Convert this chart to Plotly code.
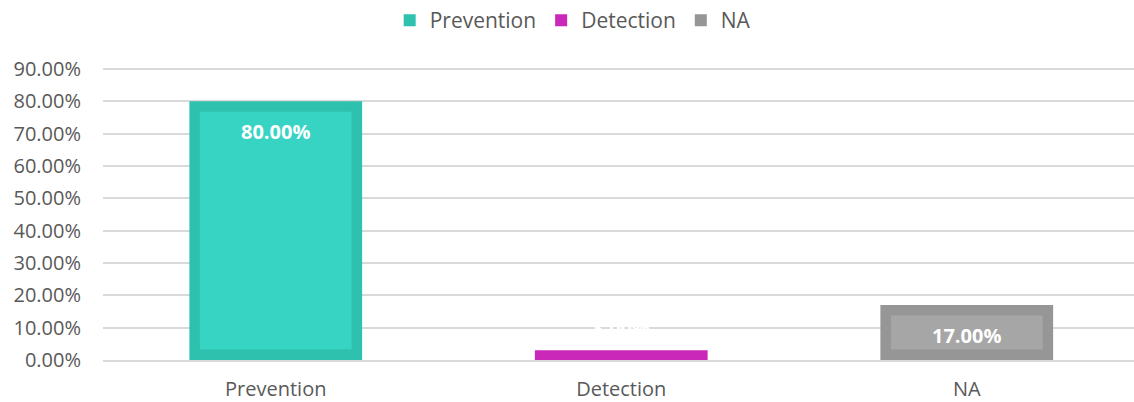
import plotly.graph_objects as go

categories = ["Prevention", "Detection", "NA"]
values = [80.0, 3.0, 17.0]
y_ticks = [0, 10, 20, 30, 40, 50, 60, 70, 80, 90]
y_tick_labels = ["%.2f%%" % t for t in y_ticks]

outer_colors = ["#2EC2AE", "#C928B9", "#969696"]
inner_colors = ["#37D4C3", "#C928B9", "#A6A6A6"]

W, H = 1134, 402
M_L, M_R, M_B = 103, 0, 42
top_px = 69                      # pixel row of the 90% gridline
y_top_val = 90
y_pad = 0.6                      # small headroom so the 90% gridline is drawn
units_per_px = y_top_val / (H - M_B - top_px)
M_T = top_px - y_pad / units_per_px
border_px = 10.5
inset = border_px * units_per_px

cat_px = 345.5
x_range = [-0.5, -0.5 + (W - M_L - M_R) / cat_px]
outer_w = 0.5
inner_w = outer_w - 2 * border_px / cat_px

fig = go.Figure()
for i, (c, v) in enumerate(zip(categories, values)):
    fig.add_trace(go.Bar(
        x=[i], y=[v], name=c, width=outer_w,
        marker=dict(color=outer_colors[i], line=dict(width=0)),
        showlegend=True, hoverinfo="skip"))
    if v > 2 * inset:
        fig.add_trace(go.Bar(
            x=[i], y=[v - 2 * inset], base=[inset], width=inner_w,
            marker=dict(color=inner_colors[i], line=dict(width=0)),
            showlegend=False, hoverinfo="skip"))

for i, v in enumerate(values):
    shift = -30 if v > 10 else 23
    fig.add_annotation(x=i, y=v, yshift=shift, text="<b>%.2f%%</b>" % v,
                       showarrow=False, xref="x", yref="y",
                       font=dict(family="Open Sans", size=20, color="white"))

fig.update_layout(
    width=W, height=H,
    margin=dict(l=M_L, r=M_R, t=M_T, b=M_B, autoexpand=False),
    barmode="overlay",
    plot_bgcolor="white", paper_bgcolor="white",
    font=dict(family="Open Sans", size=20, color="#595959"),
    legend=dict(orientation="h", xref="container", yref="container",
                x=0.505, xanchor="center", y=1.0, yanchor="top",
                font=dict(size=21, color="#595959"),
                itemclick=False, itemdoubleclick=False),
    xaxis=dict(range=x_range, tickmode="array", tickvals=list(range(len(categories))),
               ticktext=categories, showgrid=False, zeroline=False,
               showline=True, linecolor="#D9D9D9", linewidth=1.5,
               ticks="", ticklabelstandoff=10, tickfont=dict(size=20),
               automargin=False, fixedrange=True),
    yaxis=dict(range=[0, y_top_val + y_pad], tickmode="array", tickvals=y_ticks,
               ticktext=y_tick_labels, showgrid=True, gridcolor="#D9D9D9",
               gridwidth=1.5, zeroline=False, ticks="", ticklabelstandoff=21,
               tickfont=dict(size=20), automargin=False, fixedrange=True),
)

fig.write_html("out.html")
